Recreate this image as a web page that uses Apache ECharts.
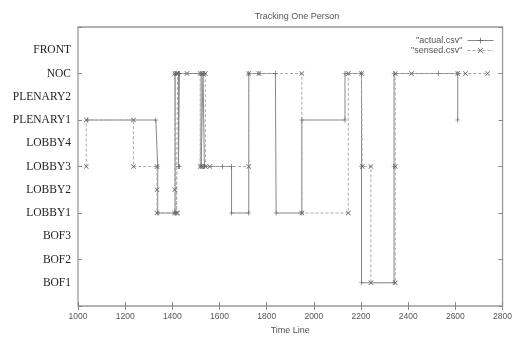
<!DOCTYPE html>
<html>
<head>
<meta charset="utf-8">
<script src="https://cdn.jsdelivr.net/npm/echarts@6/dist/echarts.min.js"></script>
<style>html,body{margin:0;padding:0;background:#fff}#c{width:515px;height:340px}</style>
</head>
<body>
<div id="c"></div>
<script>
// Locations, bottom to top (value = index + 1)
var locations = ['BOF1','BOF2','BOF3','LOBBY1','LOBBY2','LOBBY3','LOBBY4','PLENARY1','PLENARY2','NOC','FRONT'];
var xTicks = [1000,1200,1400,1600,1800,2000,2200,2400,2600,2800];

var actualTime = [1040,1330,1338,1338,1412,1412,1426,1426,1430,1430,1522,1522,1530,1530,1536,1536,1612,1651,1651,1724,1724,1767,1837,1840,1949,1949,2132,2132,2202,2202,2202,2340,2340,2340,2529,2610,2610];
var actualLoc  = ['PLENARY1','PLENARY1','LOBBY3','LOBBY1','LOBBY1','NOC','NOC','LOBBY3','LOBBY3','NOC','NOC','LOBBY3','LOBBY3','NOC','NOC','LOBBY3','LOBBY3','LOBBY3','LOBBY1','LOBBY1','NOC','NOC','NOC','LOBBY1','LOBBY1','PLENARY1','PLENARY1','NOC','NOC','LOBBY3','BOF1','BOF1','LOBBY3','NOC','NOC','NOC','PLENARY1'];

var sensedTime = [1035,1035,1235,1235,1335,1335,1335,1410,1410,1410,1418,1418,1422,1422,1462,null,1518,1518,1526,1526,1540,1540,1559,1724,1724,1767,1949,1949,2146,2146,2202,2205,2242,2242,2345,2345,2345,2414,2610,2643,2737];
var sensedLoc  = ['LOBBY3','PLENARY1','PLENARY1','LOBBY3','LOBBY3','LOBBY2','LOBBY1','LOBBY1','LOBBY2','NOC','NOC','LOBBY1','LOBBY1','NOC','NOC',null,'NOC','LOBBY3','LOBBY3','NOC','NOC','LOBBY3','LOBBY3','LOBBY3','NOC','NOC','NOC','LOBBY1','LOBBY1','NOC','NOC','LOBBY3','LOBBY3','BOF1','BOF1','LOBBY3','NOC','NOC','NOC','NOC','NOC'];

function build(times, locs) {
  return times.map(function (t, i) {
    if (t === null) return [null, null];
    return [t, locations.indexOf(locs[i]) + 1];
  });
}

var plusSym = 'path://M4.3,0H5.7V10H4.3Z M0,4.3H10V5.7H0Z';
var crossSym = 'path://M0,1L1,0L10,9L9,10Z M9,0L10,1L1,10L0,9Z';

var chart = echarts.init(document.getElementById('c'), null, {renderer: 'canvas'});
var tickStyle = {show: true, inside: true, length: 4, lineStyle: {color: '#888', width: 1}};
chart.setOption({
  animation: false,
  backgroundColor: '#fff',
  title: {
    text: 'Tracking One Person', left: 292, top: 7, textAlign: 'center',
    textStyle: {fontFamily: 'Liberation Sans', fontSize: 9, fontWeight: 'normal', color: '#555'}
  },
  legend: {
    orient: 'vertical', right: 16, top: 31, align: 'right', itemGap: 1,
    itemWidth: 26, itemHeight: 7,
    lineStyle: {width: 1},
    formatter: function (n) { return '"' + n + '"'; },
    textStyle: {fontFamily: 'Liberation Sans', fontSize: 9, color: '#555'},
    data: ['actual.csv', 'sensed.csv']
  },
  grid: {left: 78, right: 8, top: 27, bottom: 29, show: true, borderColor: '#999', borderWidth: 1.3, backgroundColor: 'transparent'},
  xAxis: [{
    type: 'value', min: xTicks[0], max: xTicks[xTicks.length - 1], interval: 200, position: 'bottom',
    axisLine: {show: false}, axisTick: tickStyle, splitLine: {show: false},
    axisLabel: {fontFamily: 'Liberation Sans', fontSize: 8.5, color: '#555', margin: 6,
      formatter: function (v) { return String(v); }},
    name: 'Time Line', nameLocation: 'middle', nameGap: 20,
    nameTextStyle: {fontFamily: 'Liberation Sans', fontSize: 9, color: '#555'}
  }, {
    type: 'value', min: xTicks[0], max: xTicks[xTicks.length - 1], interval: 200, position: 'top',
    axisLine: {show: false}, axisTick: tickStyle, splitLine: {show: false}, axisLabel: {show: false}
  }],
  yAxis: [{
    type: 'value', min: 0, max: 12, interval: 1, position: 'left',
    axisLine: {show: false}, axisTick: {show: false}, splitLine: {show: false},
    axisLabel: {
      fontFamily: 'Liberation Serif', fontSize: 11.5, color: '#222', margin: 7,
      formatter: function (v) { return (v >= 1 && v <= locations.length) ? locations[v - 1] : ''; }
    }
  }, {
    type: 'value', min: 0, max: 12, interval: 2, position: 'left',
    axisLine: {show: false}, axisTick: tickStyle, splitLine: {show: false}, axisLabel: {show: false}
  }, {
    type: 'value', min: 0, max: 12, interval: 2, position: 'right',
    axisLine: {show: false}, axisTick: tickStyle, splitLine: {show: false}, axisLabel: {show: false}
  }],
  series: [{
    name: 'actual.csv', type: 'line', data: build(actualTime, actualLoc),
    symbol: plusSym, symbolSize: 5, showSymbol: true, connectNulls: false,
    lineStyle: {color: '#888', width: 1},
    itemStyle: {color: '#666'}
  }, {
    name: 'sensed.csv', type: 'line', data: build(sensedTime, sensedLoc),
    symbol: crossSym, symbolSize: 5, showSymbol: true, connectNulls: false,
    lineStyle: {color: '#aaa', width: 1, type: [3, 2]},
    itemStyle: {color: '#666'}
  }]
});
</script>
</body>
</html>
